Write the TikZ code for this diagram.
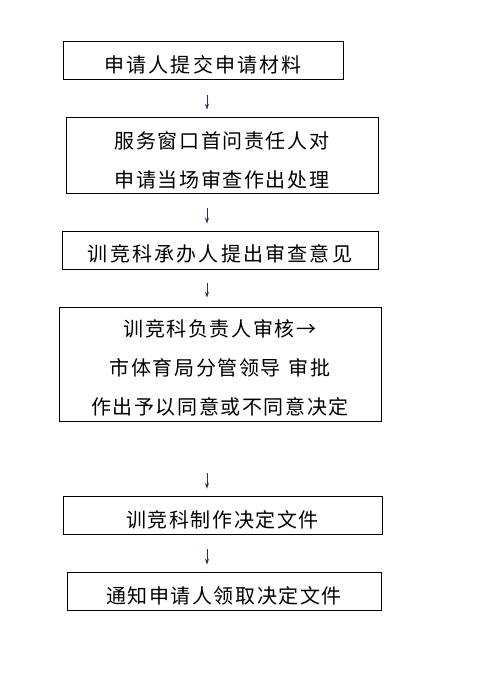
\documentclass[tikz,border=0pt]{standalone}
\usepackage{fontspec}
\newfontfamily\cjkfont[LetterSpace=8]{Noto Sans CJK SC}
\newfontfamily\cjkwide[LetterSpace=11]{Noto Sans CJK SC}
\usetikzlibrary{arrows.meta}
\definecolor{flowarrow}{RGB}{60,40,90}
\newcommand{\lift}[1]{\rule{0pt}{#1}}

\begin{document}
\begin{tikzpicture}[
    x=1pt, y=-1pt,
    font=\cjkfont\fontsize{20pt}{39pt}\selectfont,
    box/.style={draw, rectangle, line width=0.8pt, inner sep=0pt, align=center, text=black},
    wide/.style={font=\cjkwide\fontsize{20pt}{39pt}\selectfont},
    arrow/.style={-{Stealth[length=6pt,width=4pt]}, line width=0.8pt, draw=flowarrow}
]
\useasboundingbox (0,0) rectangle (488,681);

% Boxes
\node[box, wide, minimum width=280pt, minimum height=38pt] (apply) at (203,60) {\lift{26pt}申请人提交申请材料};
\node[box, minimum width=312pt, minimum height=76pt] (window) at (222,155) {\lift{27pt}服务窗口首问责任人对\\申请当场审查作出处理};
\node[box, wide, minimum width=316pt, minimum height=38pt] (opinion) at (220,250) {\lift{24pt}训竞科承办人提出审查意见};
\node[box, minimum width=322pt, minimum height=114pt] (decide) at (220,364) {\lift{25pt}训竞科负责人审核→\\市体育局分管领导\hspace{8pt}审批\\作出予以同意或不同意决定};
\node[box, minimum width=319pt, minimum height=38pt] (document) at (222.5,515) {\lift{26pt}训竞科制作决定文件};
\node[box, minimum width=314pt, minimum height=38pt] (notify) at (224,591) {\lift{26pt}通知申请人领取决定文件};

% Connections
\coordinate (ax) at (207,0);
\draw[arrow, shorten <=16pt, shorten >=7pt] (apply.south -| ax) -- (window.north -| ax);
\draw[arrow, shorten <=15pt, shorten >=7pt] (window.south -| ax) -- (opinion.north -| ax);
\draw[arrow, shorten <=14pt, shorten >=9pt] (opinion.south -| ax) -- (decide.north -| ax);
\draw[arrow, shorten <=52pt, shorten >=7pt] (decide.south -| ax) -- (document.north -| ax);
\draw[arrow, shorten <=15pt, shorten >=7pt] (document.south -| ax) -- (notify.north -| ax);

\end{tikzpicture}
\end{document}
